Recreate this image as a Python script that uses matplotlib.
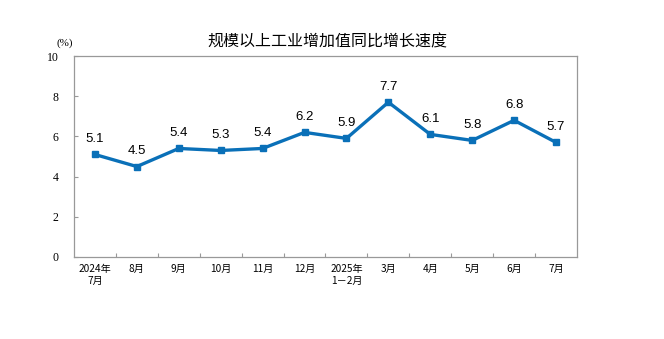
import matplotlib
matplotlib.use("Agg")
import matplotlib.pyplot as plt

categories = ["2024年\n7月", "8月", "9月", "10月", "11月", "12月", "2025年\n1－2月",
              "3月", "4月", "5月", "6月", "7月"]
values = [5.1, 4.5, 5.4, 5.3, 5.4, 6.2, 5.9, 7.7, 6.1, 5.8, 6.8, 5.7]
yticks = [0, 2, 4, 6, 8, 10]
title = "规模以上工业增加值同比增长速度"

cjk = ["Noto Sans CJK SC", "DejaVu Sans"]

fig = plt.figure(figsize=(6.64, 3.39), dpi=100)
ax = fig.add_axes([0.1114, 0.2419, 0.869 - 0.1114, 0.8348 - 0.2419])

x = list(range(len(values)))
ax.plot(x, values, color="#0A70B8", lw=2.4, marker="s", ms=4, zorder=3)
for xi, v in zip(x, values):
    ax.annotate(f"{v:.1f}", (xi, v), xytext=(0, 7), textcoords="offset points",
                ha="center", va="bottom", fontsize=9.5, family="Liberation Sans")

ax.set_xlim(-0.5, len(values) - 0.5)
ax.set_ylim(0, 10)
ax.set_yticks(yticks)
ax.set_yticklabels([str(t) for t in yticks], family="Liberation Serif", fontsize=8.5)
ax.tick_params(axis="y", direction="in", length=3, color="#999999", pad=11)

ax.set_xticks([i + 0.5 for i in range(len(values) - 1)])
ax.set_xticklabels([])
ax.set_xticks(x, minor=True)
ax.set_xticklabels(categories, minor=True, family=cjk, fontsize=7.3, linespacing=1.25)
ax.tick_params(axis="x", which="major", direction="in", length=3, color="#999999")
ax.tick_params(axis="x", which="minor", length=0, pad=5)

for s in ax.spines.values():
    s.set_color("#999999")
    s.set_linewidth(0.9)

fig.text(0.493, 0.876, title, ha="center", va="center", fontsize=11.5, family=cjk)
fig.text(0.098, 0.873, "(%)", ha="center", va="center", fontsize=8, family="Liberation Serif")

fig.savefig("out.png", dpi=100)
